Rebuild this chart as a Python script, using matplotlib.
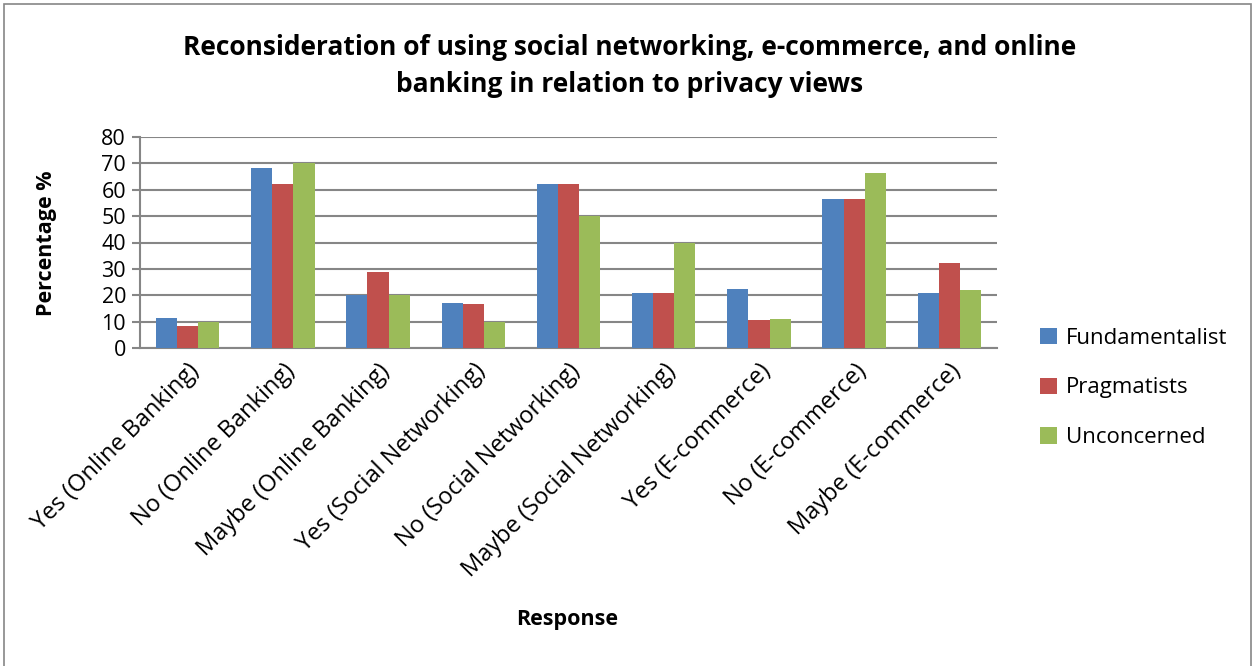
import numpy as np
import matplotlib.pyplot as plt
from matplotlib.patches import Rectangle

# Survey responses (percentage) per privacy group
responses = ['Yes (Online Banking)', 'No (Online Banking)', 'Maybe (Online Banking)',
             'Yes (Social Networking)', 'No (Social Networking)', 'Maybe (Social Networking)',
             'Yes (E-commerce)', 'No (E-commerce)', 'Maybe (E-commerce)']
fundamentalist = [11.2, 68.4, 20.0, 16.9, 62.2, 20.7, 22.5, 56.4, 20.7]
pragmatists = [8.4, 62.2, 29.0, 16.6, 62.2, 20.7, 10.7, 56.4, 32.4]
unconcerned = [10.0, 70.0, 20.0, 10.0, 50.0, 40.0, 11.0, 66.5, 21.9]

series = [('Fundamentalist', fundamentalist, '#4F81BD'),
          ('Pragmatists', pragmatists, '#C0504D'),
          ('Unconcerned', unconcerned, '#9BBB59')]

plt.rcParams['font.family'] = ['Open Sans', 'DejaVu Sans']

fig = plt.figure(figsize=(12.55, 6.66), dpi=100)
ax = fig.add_axes([140 / 1255, 1 - 348 / 666, 857 / 1255, 211 / 666])

x = np.arange(len(responses))
width = 1 / 4.5
for i, (name, vals, col) in enumerate(series):
    ax.bar(x + (i - 1) * width, vals, width, color=col, label=name, zorder=3)

ax.set_xlim(-0.5, len(responses) - 0.5)
ax.set_ylim(0, 80)
ax.set_yticks(range(0, 81, 10))
ax.grid(axis='y', color='#868686', linewidth=1.5, zorder=0)
ax.set_xticks(x)
ax.set_xticklabels(responses, rotation=45, ha='right', rotation_mode='anchor', fontsize=17)
ax.tick_params(axis='y', labelsize=15.5, length=6, width=1.5, color='#868686', pad=4)
ax.tick_params(axis='x', length=0, pad=8)
for side in ['top', 'right']:
    ax.spines[side].set_visible(False)
for side in ['left', 'bottom']:
    ax.spines[side].set_color('#868686')
    ax.spines[side].set_linewidth(1.5)

fig.text(47 / 1255, 1 - 243 / 666, 'Percentage %', fontsize=15.5, fontweight='bold',
         rotation=90, ha='center', va='center')
fig.text(567 / 1255, 1 - 620 / 666, 'Response', fontsize=15.5, fontweight='bold',
         ha='center', va='center')
fig.text(630 / 1255, 1 - 66 / 666,
         'Reconsideration of using social networking, e-commerce, and online\nbanking in relation to privacy views',
         fontsize=19, fontweight='bold', ha='center', va='center', linespacing=1.45)

ax.legend(loc='center left', bbox_to_anchor=(1020 / 1255, 1 - 388 / 666),
          bbox_transform=fig.transFigure, frameon=False, fontsize=16,
          handlelength=0.75, handleheight=0.75, labelspacing=1.3, handletextpad=0.4)

# outer chart border
fig.patches.append(Rectangle((4 / 1255, -0.01), 1247 / 1255, 1 - 4 / 666 + 0.01,
                             transform=fig.transFigure, fill=False,
                             edgecolor='#868686', linewidth=1.2))

fig.savefig('out.png', dpi=100)
